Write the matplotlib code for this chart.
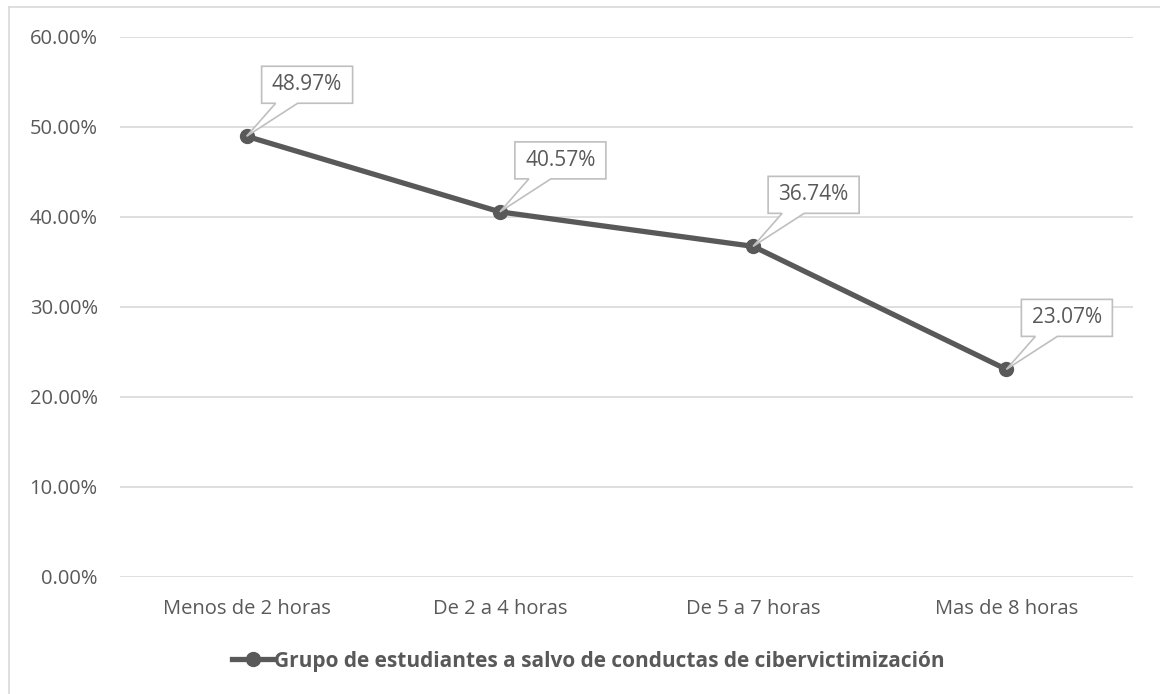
import matplotlib.pyplot as plt
import matplotlib.transforms as mtransforms
from matplotlib.patches import Polygon
from matplotlib.lines import Line2D
from matplotlib.ticker import PercentFormatter

categories = ['Menos de 2 horas', 'De 2 a 4 horas', 'De 5 a 7 horas', 'Mas de 8 horas']
values = [48.97, 40.57, 36.74, 23.07]
series_name = 'Grupo de estudiantes a salvo de conductas de cibervictimización'

TEXT = '#595959'
LINE = '#595959'
GRID = '#d9d9d9'
plt.rcParams['font.family'] = ['Open Sans', 'DejaVu Sans']

W, H = 1160, 694
fig = plt.figure(figsize=(W / 100, H / 100), dpi=100)
ax = fig.add_axes([120 / W, 1 - 577 / H, (1133 - 120) / W, (577 - 37) / H])

x = list(range(len(categories)))
ax.plot(x, values, color=LINE, linewidth=3.8, marker='o', markersize=10,
        solid_capstyle='round', zorder=3)

ax.set_xlim(-0.5, len(categories) - 0.5)
ax.set_ylim(0, 60)
ax.set_yticks(range(0, 61, 10))
ax.yaxis.set_major_formatter(PercentFormatter(decimals=2))
ax.set_xticks(x)
ax.set_xticklabels(categories)
ax.grid(axis='y', color=GRID, linewidth=1.2)
ax.set_axisbelow(True)
for s in ax.spines.values():
    s.set_visible(False)
ax.tick_params(length=0, labelsize=14.5, colors=TEXT, pad=16)
ax.tick_params(axis='y', pad=16)

# callout boxes: coordinates in pixels relative to the data point
bx0, bx1, by0, by1 = 15, 106, 33, 70
wx0, wx1 = 29, 51
for xi, v in zip(x, values):
    off = fig.dpi_scale_trans + mtransforms.ScaledTranslation(xi, v, ax.transData)
    px = [(bx0, by0), (wx0, by0), (0, 0), (wx1, by0), (bx1, by0),
          (bx1, by1), (bx0, by1)]
    px = [(a / 100, b / 100) for a, b in px]
    ax.add_patch(Polygon(px, closed=True, transform=off, facecolor='white',
                         edgecolor='#bfbfbf', linewidth=1.2, zorder=4,
                         clip_on=False))
    ax.text((bx0 + bx1) / 200, (by0 + by1) / 200, f'{v:.2f}%', transform=off,
            ha='center', va='center', fontsize=15, color=TEXT, zorder=5)

# legend
handle = Line2D([], [], color=LINE, linewidth=3.8, marker='o', markersize=10)
leg = fig.legend([handle], [series_name], loc='center', bbox_to_anchor=(0.507, 1 - 661 / H),
                 frameon=False, handlelength=2.0, handletextpad=0.0,
                 prop={'weight': 'bold', 'size': 15})
for t in leg.get_texts():
    t.set_color(TEXT)

# chart frame
fig.add_artist(Line2D([9 / W, 9 / W], [0, 1 - 7 / H], transform=fig.transFigure,
                      color=GRID, linewidth=1.2))
fig.add_artist(Line2D([9 / W, 1], [1 - 7 / H, 1 - 7 / H], transform=fig.transFigure,
                      color=GRID, linewidth=1.2))

fig.savefig('out.png', dpi=100)
